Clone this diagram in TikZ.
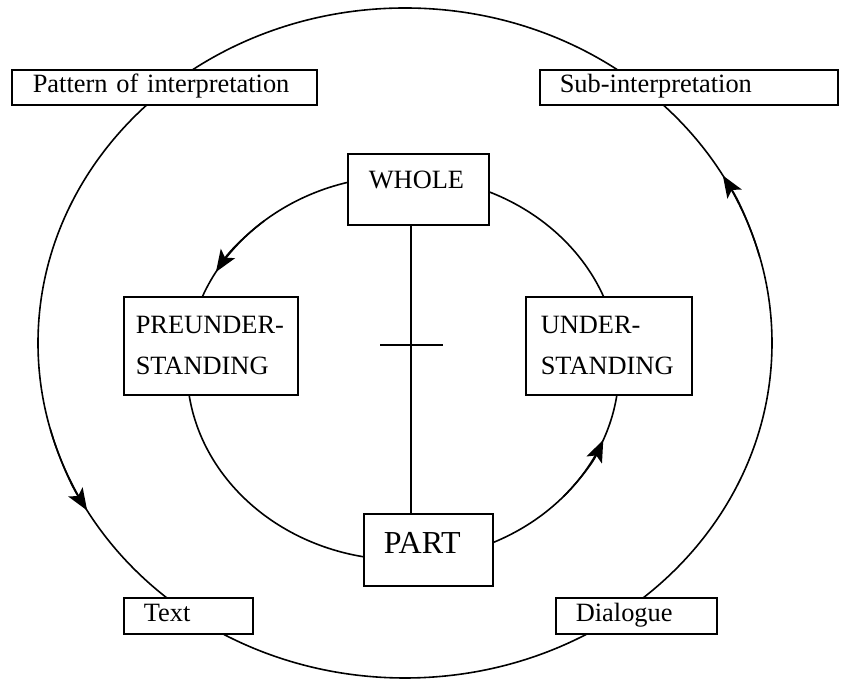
\documentclass[tikz,border=0pt]{standalone}
\usepackage{fontspec}
\setmainfont{Liberation Serif}
\usetikzlibrary{arrows.meta}

\begin{document}
\begin{tikzpicture}[x=1pt, y=1pt, line width=1.6pt,
    tag/.style={draw, fill=white, anchor=north west, align=left, inner ysep=3pt,
      font=\fontsize{26.4}{41}\selectfont},
    tip/.style={-{Stealth[length=22pt, width=17pt, inset=5pt]}}]
        \useasboundingbox (0,0) rectangle (847,679);
        \draw (405,336) ellipse [x radius=367, y radius=335];
        \draw (403,311) ellipse [x radius=216, y radius=192];
        \draw[tip] (405,336) ++(195:367 and 335) arc [start angle=195, end angle=210, x radius=367, y radius=335];
        \draw[tip] (405,336) ++(15:367 and 335) arc [start angle=15, end angle=30, x radius=367, y radius=335];
        \draw[tip] (403,311) ++(130:216 and 192) arc [start angle=130, end angle=150, x radius=216, y radius=192];
        \draw[tip] (403,311) ++(318:216 and 192) arc [start angle=318, end angle=338, x radius=216, y radius=192];
        \node[tag, inner xsep=21pt, text width=263pt, text height=20pt, text depth=9pt] (pattern) at (11,610) {Pattern of interpretation};
        \node[tag, inner xsep=20pt, text width=258pt, text height=20pt, text depth=9pt] (sub) at (539,610) {Sub-interpretation};
        \node[tag, inner xsep=21pt, inner ysep=6pt, text width=99pt, text height=29pt, text depth=30pt] (whole) at (347,526) {WHOLE};
        \node[tag, inner xsep=12pt, text width=150pt, minimum height=98pt] (preund) at (123,383) {PREUNDER-\\STANDING};
        \node[tag, inner xsep=15pt, text width=136pt, minimum height=98pt] (und) at (525,383) {UNDER-\\STANDING};
        \node[tag, inner xsep=20pt, inner ysep=6pt, text width=89pt, text height=34pt, text depth=26pt,
          font=\fontsize{32}{38}\selectfont] (part) at (363,166) {PART};
        \node[tag, inner xsep=20pt, text width=89pt, text height=21pt, text depth=9pt] (text) at (123,82) {Text};
        \node[tag, inner xsep=20pt, text width=121pt, text height=21pt, text depth=9pt] (dialogue) at (555,82) {Dialogue};
        \coordinate (cross) at (411,334);
        \draw (whole.south -| cross) -- (part.north -| cross);
        \draw ([xshift=-31pt]cross) -- ([xshift=32pt]cross);
      \end{tikzpicture}
\end{document}
